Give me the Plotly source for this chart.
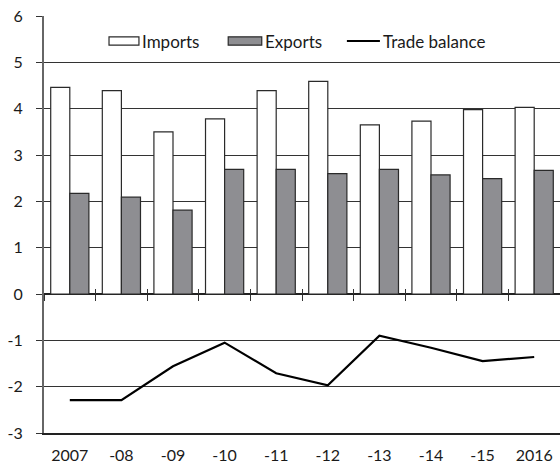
import plotly.graph_objects as go

years = ["2007", "-08", "-09", "-10", "-11", "-12", "-13", "-14", "-15", "2016"]
imports = [4.46, 4.39, 3.50, 3.78, 4.39, 4.59, 3.65, 3.73, 3.98, 4.03]
exports = [2.17, 2.09, 1.81, 2.69, 2.69, 2.60, 2.69, 2.57, 2.49, 2.67]
balance = [-2.29, -2.29, -1.56, -1.05, -1.71, -1.97, -0.90, -1.16, -1.45, -1.36]
y_ticks = [-3, -2, -1, 0, 1, 2, 3, 4, 5, 6]
y_labels = ["-3", "-2", "-1", "0", "1", "2", "3", "4", "5", "6"]

xpos = list(range(len(years)))
bounds = [i - 0.5 for i in range(len(years) + 1)]

FONT = "Lato, 'DejaVu Sans', sans-serif"
GRID = "#333333"
TXT = "#1a1a1a"
EXP_COLOR = "#8e8e92"
EDGE = "#2a2a2a"

fig = go.Figure()
fig.add_trace(go.Bar(x=xpos, y=imports, name="Imports", showlegend=False,
                     marker=dict(color="white", line=dict(color=EDGE, width=1.2))))
fig.add_trace(go.Bar(x=xpos, y=exports, name="Exports", showlegend=False,
                     marker=dict(color=EXP_COLOR, line=dict(color=EDGE, width=1.2))))
fig.add_trace(go.Scatter(x=xpos, y=balance, name="Trade balance", mode="lines",
                         showlegend=False, line=dict(color="black", width=2.2)))
# invisible helper traces carrying the tick axes drawn along the zero line
fig.add_trace(go.Scatter(x=[bounds[0]], y=[0], xaxis="x2", mode="markers",
                         marker=dict(opacity=0), showlegend=False, hoverinfo="skip"))
fig.add_trace(go.Scatter(x=[bounds[0]], y=[0], xaxis="x3", mode="markers",
                         marker=dict(opacity=0), showlegend=False, hoverinfo="skip"))

# legend keys (paper coordinates) + legend texts
ly = 0.940
shapes = [
    dict(type="rect", xref="paper", yref="paper", x0=0.126, x1=0.184, y0=0.930, y1=0.950,
         fillcolor="white", line=dict(color=EDGE, width=1.2), layer="above"),
    dict(type="rect", xref="paper", yref="paper", x0=0.357, x1=0.422, y0=0.930, y1=0.950,
         fillcolor=EXP_COLOR, line=dict(color=EDGE, width=1.2), layer="above"),
    dict(type="line", xref="paper", yref="paper", x0=0.587, x1=0.651, y0=ly, y1=ly,
         line=dict(color="black", width=2), layer="above"),
]
annotations = [
    dict(text="Imports", xref="paper", yref="paper", x=0.187, y=ly, xanchor="left",
         yanchor="middle", showarrow=False, font=dict(size=17, color=TXT)),
    dict(text="Exports", xref="paper", yref="paper", x=0.424, y=ly, xanchor="left",
         yanchor="middle", showarrow=False, font=dict(size=17, color=TXT)),
    dict(text="Trade balance", xref="paper", yref="paper", x=0.653, y=ly, xanchor="left",
         yanchor="middle", showarrow=False, font=dict(size=17, color=TXT)),
]

fig.update_layout(
    width=560, height=464,
    margin=dict(l=44, r=0, t=16, b=31, autoexpand=False),
    plot_bgcolor="white", paper_bgcolor="white",
    font=dict(family=FONT, size=16, color=TXT),
    barmode="group", bargap=0.26, bargroupgap=0,
    showlegend=False,
    shapes=shapes, annotations=annotations,
    xaxis=dict(range=[-0.5, 9.5], tickvals=xpos, ticktext=years, showgrid=False,
               showline=True, linecolor="#222", linewidth=1.5, zeroline=False,
               ticks="outside", ticklen=7, tickcolor="rgba(0,0,0,0)",
               tickfont=dict(size=16, color=TXT)),
    xaxis2=dict(range=[-0.5, 9.5], overlaying="x", anchor="free", position=1/3,
                tickvals=bounds, showticklabels=False, showgrid=False, zeroline=False,
                showline=False, ticks="outside", ticklen=6, tickcolor=GRID, tickwidth=1.2),
    xaxis3=dict(range=[-0.5, 9.5], overlaying="x", anchor="free", position=1/3,
                tickvals=bounds, showticklabels=False, showgrid=False, zeroline=False,
                showline=False, ticks="inside", ticklen=5, tickcolor=GRID, tickwidth=1.2),
    yaxis=dict(range=[-3, 6], tickvals=y_ticks, ticktext=y_labels,
               showgrid=True, gridcolor=GRID, gridwidth=1.2,
               zeroline=True, zerolinecolor="#222", zerolinewidth=1.5,
               showline=True, linecolor="#666", linewidth=2,
               ticks="outside", ticklen=6, tickcolor=GRID, tickwidth=1.2,
               ticklabelstandoff=10, tickfont=dict(size=16, color=TXT)),
)

fig.write_html("out.html", config={"displayModeBar": False},
               post_script="document.body.style.margin='0';document.body.style.overflow='hidden';")
